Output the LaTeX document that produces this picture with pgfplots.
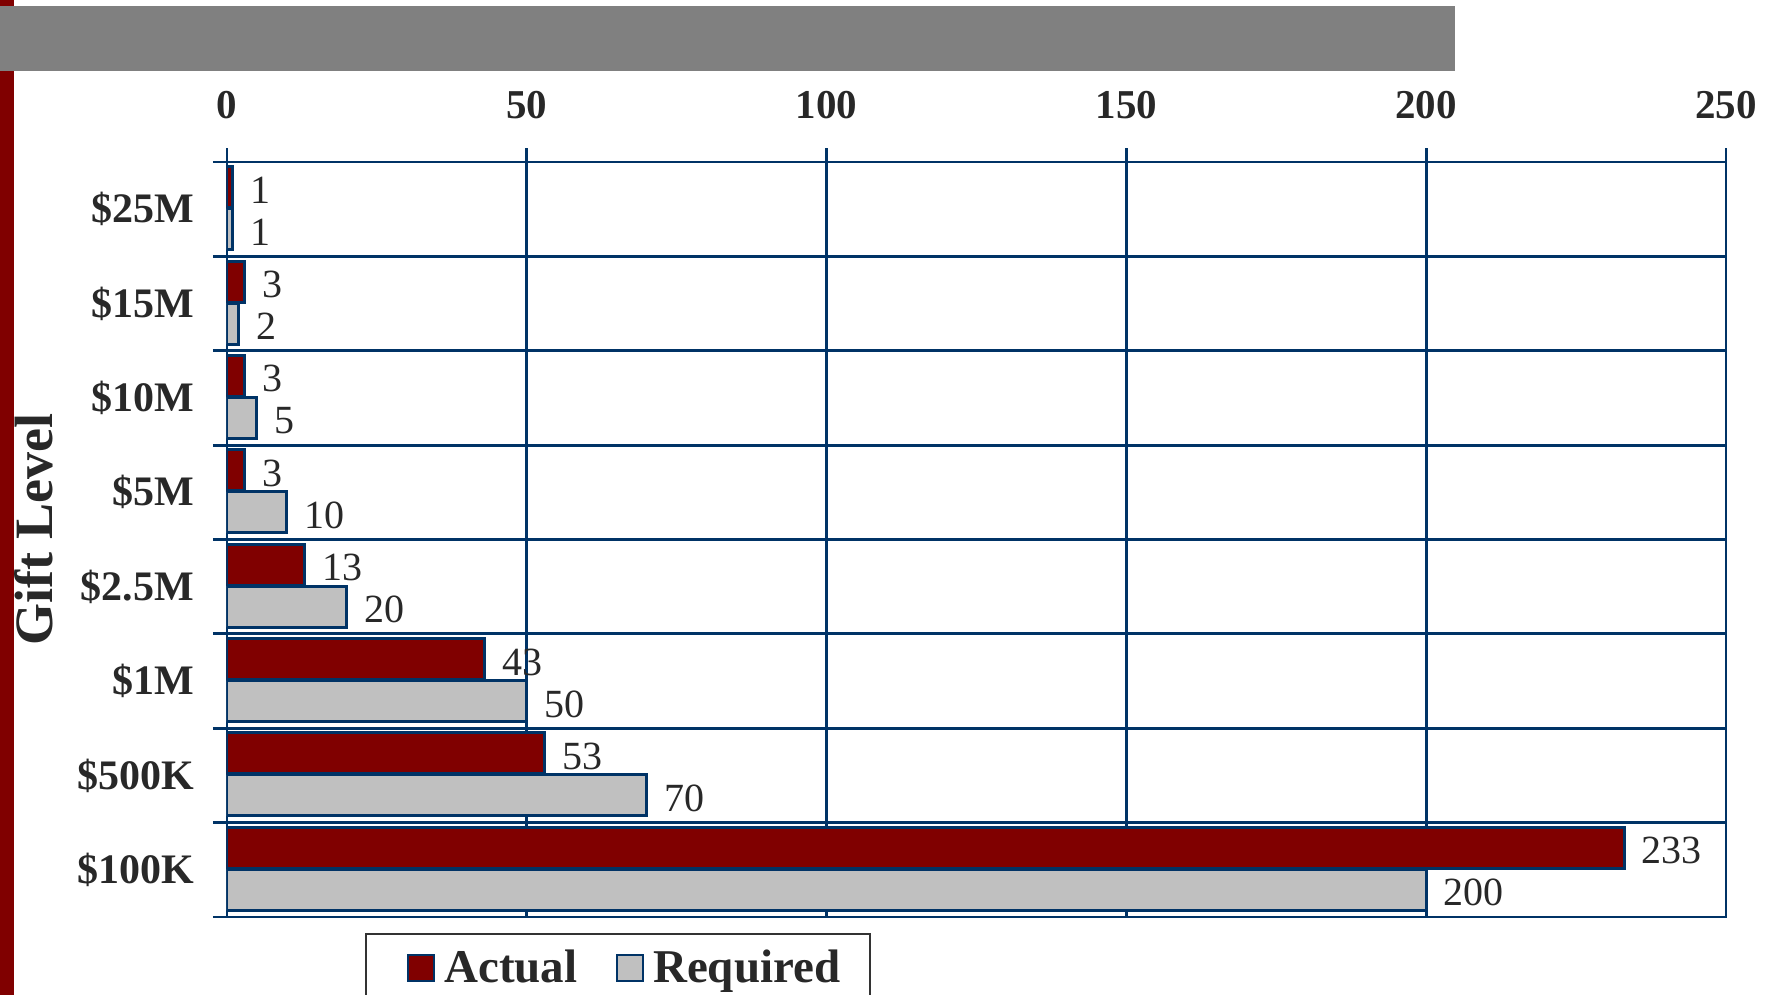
\documentclass[border=0pt]{standalone}
\usepackage{fontspec}
\setmainfont{Liberation Serif}
\usepackage{pgfplots}
\usepackage{pgfplotstable}
\pgfplotsset{compat=1.18}

\definecolor{navy}{RGB}{0,51,102}
\definecolor{maroon}{RGB}{128,0,0}
\definecolor{silver}{RGB}{192,192,192}
\definecolor{banner}{RGB}{128,128,128}
\definecolor{ink}{RGB}{40,40,40}

% gift levels from the bottom ($100K) to the top ($25M)
\pgfplotstableread{
idx actual required
0   233    200
1   53     70
2   43     50
3   13     20
4   3      10
5   3      5
6   3      2
7   1      1
}\giftdata

\begin{document}
\begin{tikzpicture}
\useasboundingbox (0,0) rectangle (889.5pt,497.5pt);
\clip (0,0) rectangle (889.5pt,497.5pt);
% slide decoration: side strip and title banner
\fill[maroon] (0,0) rectangle (6.8pt,497.5pt);
\fill[banner] (0,461.75pt) rectangle (727.5pt,494.6pt);
\begin{axis}[
  at={(113.5pt,39pt)}, anchor=south west,
  scale only axis, width=749.5pt, height=377.5pt,
  xbar, bar width=20.5pt,
  xmin=0, xmax=250, ymin=-0.5, ymax=7.5,
  xtick={0,50,...,250},
  xtick pos=upper, xticklabel pos=upper,
  ytick={-0.5,0.5,...,7.5}, yticklabels={},
  ytick pos=left,
  extra y ticks={0,1,...,7},
  extra y tick labels={\$100K,\$500K,\$1M,\$2.5M,\$5M,\$10M,\$15M,\$25M},
  extra y tick style={grid=none, major tick length=0pt},
  tick align=outside, major tick length=7pt,
  xmajorgrids, ymajorgrids,
  grid style={navy, line width=1.4pt},
  axis line style={navy, line width=1.4pt},
  every tick/.style={navy, line width=1.4pt},
  /pgf/number format/assume math mode=true,
  xticklabel style={font=\fontsize{20.5}{24}\selectfont\bfseries, text=ink, yshift=11pt},
  yticklabel style={font=\fontsize{21}{25}\selectfont\bfseries, text=ink, xshift=-13pt},
  ylabel={Gift Level},
  ylabel style={at={(axis description cs:-0.1288,0.513)}, anchor=center,
    font=\fontsize{27}{32}\selectfont\bfseries, text=ink},
  nodes near coords,
  every node near coord/.append style={font=\fontsize{20}{24}\selectfont,
    text=ink, anchor=west, inner sep=0pt, xshift=8pt, yshift=-1.5pt},
  legend columns=2,
  legend style={at={(axis description cs:0.092,-0.0212)}, anchor=north west,
    draw=black!80, line width=0.9pt, fill=white,
    font=\fontsize{23.5}{28}\selectfont\bfseries, text=ink,
    inner xsep=13pt, inner ysep=6pt,
    /tikz/every even column/.append style={column sep=9.5pt}},
  legend image code/.code={%
    \path (-7.5pt,0pt) (15.3pt,0pt);
    \draw[#1, line width=1pt] (0pt,-6.5pt) rectangle (13pt,6.5pt);},
]
\addplot[fill=maroon, draw=navy, line width=1.5pt, bar shift=11pt]
  table[x=actual, y=idx]{\giftdata};
\addplot[fill=silver, draw=navy, line width=1.5pt, bar shift=-10pt]
  table[x=required, y=idx]{\giftdata};
\legend{Actual,Required}
\end{axis}
\end{tikzpicture}
\end{document}
